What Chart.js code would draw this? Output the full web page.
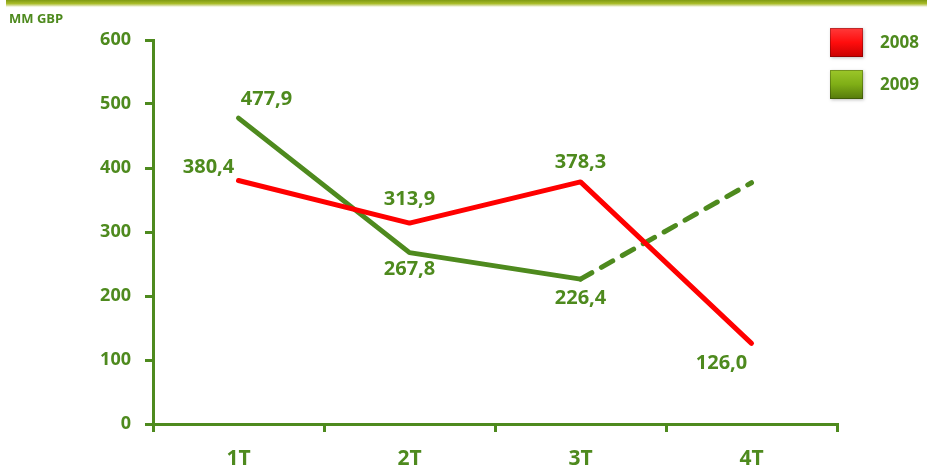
<!DOCTYPE html>
<html>
<head>
<meta charset="utf-8">
<script src="https://cdn.jsdelivr.net/npm/chart.js@4/dist/chart.umd.min.js"></script>
<style>
html,body{margin:0;padding:0;background:#fff;}
#wrap{width:927px;height:470px;position:relative;}
</style>
</head>
<body>
<div id="wrap"><canvas id="c" width="927" height="470"></canvas></div>
<script>
const categories = ['1T', '2T', '3T', '4T'];
const seriesNames = ['2008', '2009'];
const values2008 = [380.4, 313.9, 378.3, 126.0];
const values2009 = [477.9, 267.8, 226.4, 377];
const labeled2009 = [true, true, true, false];
const yTicks = [0, 100, 200, 300, 400, 500, 600];
const unitLabel = 'MM GBP';

const GREEN = '#4E8A1E';
const RED = '#FF0000';
const FONT = '"Open Sans", Lato, sans-serif';

// label placement per series (style, not data)
const placement = {
  0: [{dx:-30, dy:-13}, {dx:0, dy:-24}, {dx:0, dy:-20}, {dx:-30, dy:20}],
  1: [{dx:28, dy:-19}, {dx:0, dy:17}, {dx:0, dy:19}, null]
};

function fmt(v){ return v.toFixed(1).replace('.', ','); }

const decorPlugin = {
  id: 'decor',
  beforeDraw(chart){
    const ctx = chart.ctx;
    ctx.save();
    const g = ctx.createLinearGradient(0, 0, 0, 8);
    g.addColorStop(0, '#7f9a12');
    g.addColorStop(0.45, '#a9bc2a');
    g.addColorStop(0.7, '#d8dfa0');
    g.addColorStop(1, 'rgba(255,255,255,0)');
    ctx.fillStyle = g;
    ctx.fillRect(6, 0, 921, 8);
    ctx.fillStyle = GREEN;
    ctx.font = 'bold 13px ' + FONT;
    ctx.textAlign = 'left';
    ctx.textBaseline = 'middle';
    ctx.fillText(unitLabel, 9, 19);
    ctx.restore();
  },
  afterDraw(chart){
    const ctx = chart.ctx;
    ctx.save();
    // data labels
    ctx.font = 'bold 20px ' + FONT;
    ctx.fillStyle = GREEN;
    ctx.textAlign = 'center';
    ctx.textBaseline = 'middle';
    chart.data.datasets.forEach((ds, di) => {
      const meta = chart.getDatasetMeta(di);
      meta.data.forEach((pt, i) => {
        const p = placement[di][i];
        if (!p) return;
        if (di === 1 && !labeled2009[i]) return;
        ctx.fillText(fmt(ds.data[i]), pt.x + p.dx, pt.y + p.dy);
      });
    });
    // legend
    const items = [
      {name: seriesNames[0], y: 28, top: '#ff3a3a', mid: '#ff0d0d', bot: '#c80000'},
      {name: seriesNames[1], y: 70, top: '#9cc72a', mid: '#7fae16', bot: '#55790c'}
    ];
    items.forEach(it => {
      const x = 830, w = 33, h = 29;
      const g = ctx.createLinearGradient(0, it.y, 0, it.y + h);
      g.addColorStop(0, it.top);
      g.addColorStop(0.5, it.mid);
      g.addColorStop(1, it.bot);
      ctx.shadowColor = 'rgba(0,0,0,0.25)';
      ctx.shadowBlur = 3;
      ctx.shadowOffsetX = 1;
      ctx.shadowOffsetY = 1;
      ctx.fillStyle = g;
      ctx.fillRect(x, it.y, w, h);
      ctx.shadowColor = 'transparent';
      ctx.strokeStyle = 'rgba(0,0,0,0.25)';
      ctx.lineWidth = 1;
      ctx.strokeRect(x + 0.5, it.y + 0.5, w - 1, h - 1);
      ctx.fillStyle = GREEN;
      ctx.font = 'bold 17px ' + FONT;
      ctx.textAlign = 'left';
      ctx.textBaseline = 'middle';
      ctx.fillText(it.name, 880, it.y + h / 2 + 1);
    });
    ctx.restore();
  }
};

new Chart(document.getElementById('c'), {
  type: 'line',
  data: {
    labels: categories,
    datasets: [
      {
        label: seriesNames[0],
        data: values2008,
        borderColor: RED,
        borderWidth: 5,
        pointRadius: 0,
        tension: 0,
        borderJoinStyle: 'round',
        borderCapStyle: 'round'
      },
      {
        label: seriesNames[1],
        data: values2009,
        borderColor: GREEN,
        borderWidth: 5,
        pointRadius: 0,
        tension: 0,
        borderJoinStyle: 'round',
        borderCapStyle: 'round',
        segment: {
          borderDash: c => (c.p1DataIndex === 3 ? [13, 11] : undefined)
        }
      }
    ]
  },
  options: {
    responsive: false,
    animation: false,
    events: [],
    layout: {padding: {left: 0, right: 90, top: 40, bottom: 0}},
    plugins: {legend: {display: false}, tooltip: {enabled: false}},
    scales: {
      x: {
        offset: true,
        grid: {offset: true, drawOnChartArea: false, drawTicks: true, tickLength: 8, color: GREEN, lineWidth: 3},
        border: {color: GREEN, width: 3},
        ticks: {color: GREEN, font: {family: FONT, size: 21, weight: 'bold'}, padding: 14},
        afterFit(s){ s.height = 46; }
      },
      y: {
        min: 0, max: 600,
        afterBuildTicks(s){ s.ticks = yTicks.map(v => ({value: v})); },
        grid: {drawOnChartArea: false, drawTicks: true, tickLength: 8, color: GREEN, lineWidth: 3},
        border: {color: GREEN, width: 3},
        ticks: {color: GREEN, font: {family: FONT, size: 18, weight: 'bold'}, padding: 14},
        afterFit(s){ s.width = 153; }
      }
    }
  },
  plugins: [decorPlugin]
});
</script>
</body>
</html>
